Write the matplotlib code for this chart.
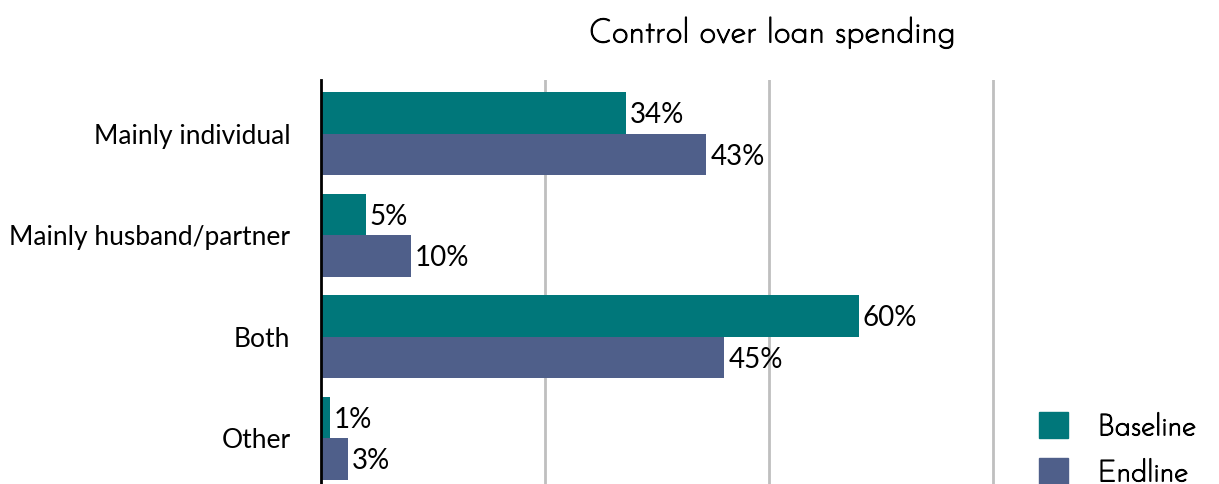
import matplotlib
matplotlib.use("Agg")
import matplotlib.pyplot as plt
import matplotlib.patheffects as pe
import numpy as np
from matplotlib.patches import Patch

categories = ["Mainly individual", "Mainly husband/partner", "Both", "Other"]
baseline = [34, 5, 60, 1]
endline = [43, 10, 45, 3]
series_names = ["Baseline", "Endline"]
colors = ["#00777A", "#4F5F8A"]
title = "Control over loan spending"

plt.rcParams['font.family'] = ['Lato', 'DejaVu Sans']

fig = plt.figure(figsize=(12.19, 4.84), dpi=100)
ax = fig.add_axes([321/1219, 0.0, (1217-321)/1219, (484-80)/484])

y = np.arange(len(categories))
h = 0.41
b1 = ax.barh(y - h/2, baseline, height=h, color=colors[0], zorder=3)
b2 = ax.barh(y + h/2, endline, height=h, color=colors[1], zorder=3)

for bars, vals in ((b1, baseline), (b2, endline)):
    for bar, v in zip(bars, vals):
        ax.text(bar.get_width() + 0.45, bar.get_y() + bar.get_height()/2 + 0.02,
                f"{v}%", va="center", ha="left", fontsize=20, color="black")

ax.set_xlim(0, 100)
ax.set_ylim(3.45, -0.53)
ax.set_yticks(y)
ax.set_yticklabels(categories, fontsize=19)
ax.tick_params(axis='y', length=0, pad=22)
ax.set_xticks([25, 50, 75])
ax.tick_params(axis='x', length=0, labelbottom=False)
ax.grid(axis='x', color="#BFBFBF", linewidth=2, zorder=0)
for s in ["top", "right", "bottom"]:
    ax.spines[s].set_visible(False)
ax.spines["left"].set_linewidth(2)
ax.spines["left"].set_color("black")
ax.spines["left"].set_zorder(4)

jos = ['Josefin Sans', 'Lato', 'DejaVu Sans']
thick = [pe.withStroke(linewidth=1.1, foreground='black')]
fig.text(772/1219, 1 - 33/484, title, ha="center", va="center", fontsize=24,
         family=jos, path_effects=thick)

handles = [Patch(color=c, label=n) for c, n in zip(colors, series_names)]
leg = fig.legend(handles=handles, loc="lower right", bbox_to_anchor=(1.003, -0.06),
           frameon=False, prop={'family': jos, 'size': 21.5},
           handlelength=0.95, handleheight=0.95,
           handletextpad=1.0, labelspacing=0.6)
for t in leg.get_texts():
    t.set_path_effects(thick)

fig.savefig("out.png", dpi=100)
